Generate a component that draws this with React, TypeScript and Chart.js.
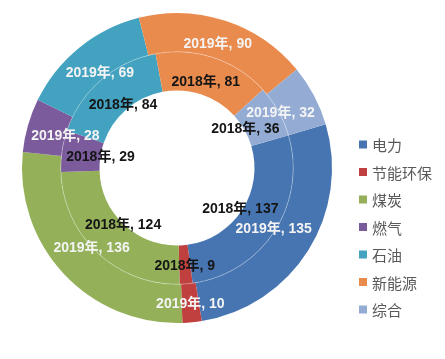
import React, { useEffect, useRef } from 'react';
import { Chart, registerables } from 'chart.js';

Chart.register(...registerables);

const categories = ['电力', '节能环保', '煤炭', '燃气', '石油', '新能源', '综合'];
const values2019 = [135, 10, 136, 28, 69, 90, 32];
const values2018 = [137, 9, 124, 29, 84, 81, 36];
const seriesNames = ['2019年', '2018年'];
const colors = ['#4775b2', '#c0403f', '#94b15a', '#7b5b9b', '#42a2c0', '#e98b4d', '#94acd4'];

const LABEL_FONT = '"Liberation Sans", "Noto Sans CJK SC", sans-serif';
const LEGEND_FONT = '"Noto Sans CJK SC", sans-serif';

const ringLabels = {
  id: 'ringLabels',
  afterDatasetsDraw(chart: any) {
    const ctx = chart.ctx;
    ctx.save();
    // faint line between the two rings
    const outerMeta = chart.getDatasetMeta(0);
    const a0: any = outerMeta.data[0];
    if (a0) {
      ctx.beginPath();
      ctx.arc(a0.x, a0.y, a0.innerRadius, 0, Math.PI * 2);
      ctx.strokeStyle = 'rgba(255,255,255,0.3)';
      ctx.lineWidth = 1;
      ctx.stroke();
    }
    ctx.font = `bold 14px ${LABEL_FONT}`;
    ctx.textAlign = 'center';
    ctx.textBaseline = 'middle';
    chart.data.datasets.forEach((ds: any, di: number) => {
      const meta = chart.getDatasetMeta(di);
      meta.data.forEach((arc: any, i: number) => {
        const { x, y, startAngle, endAngle, outerRadius } = arc;
        const a = (startAngle + endAngle) / 2;
        const text = `${ds.label}, ${ds.data[i]}`;
        const w = ctx.measureText(text).width;
        const h = 14;
        const limit = outerRadius - 4;
        const c = Math.cos(a);
        const s = Math.sin(a);
        let lo = 0;
        let hi = outerRadius;
        for (let k = 0; k < 40; k++) {
          const r = (lo + hi) / 2;
          const fx = Math.abs(r * c) + w / 2;
          const fy = Math.abs(r * s) + h / 2;
          if (Math.hypot(fx, fy) <= limit) lo = r;
          else hi = r;
        }
        ctx.fillStyle = di === 0 ? '#f4f4f4' : '#151515';
        ctx.fillText(text, x + lo * c, y + lo * s);
      });
    });
    ctx.restore();
  },
};

const sideLegend = {
  id: 'sideLegend',
  afterDraw(chart: any) {
    const ctx = chart.ctx;
    ctx.save();
    ctx.font = `15px ${LEGEND_FONT}`;
    ctx.textAlign = 'left';
    ctx.textBaseline = 'middle';
    const labels: string[] = chart.data.labels;
    const bg: string[] = chart.data.datasets[0].backgroundColor;
    const x0 = 359;
    const y0 = 144.5;
    const step = 27.5;
    labels.forEach((lab, i) => {
      const yy = y0 + i * step;
      ctx.fillStyle = bg[i];
      ctx.fillRect(x0, yy - 4, 8, 8);
      ctx.fillStyle = '#595959';
      ctx.fillText(lab, x0 + 13, yy + 1);
    });
    ctx.restore();
  },
};

export default function App() {
  const ref = useRef<HTMLCanvasElement>(null);
  useEffect(() => {
    if (!ref.current) return;
    const chart = new Chart(ref.current, {
      type: 'doughnut',
      data: {
        labels: categories,
        datasets: [
          { label: seriesNames[0], data: values2019, backgroundColor: colors, borderWidth: 0, hoverOffset: 0 },
          { label: seriesNames[1], data: values2018, backgroundColor: colors, borderWidth: 0, hoverOffset: 0 },
        ],
      },
      options: {
        responsive: false,
        animation: false,
        devicePixelRatio: 1,
        events: [],
        cutout: '50%',
        rotation: 73.6,
        layout: { padding: { left: 22, top: 13, right: 113, bottom: 36 } },
        plugins: { legend: { display: false }, tooltip: { enabled: false } },
      } as any,
      plugins: [ringLabels, sideLegend],
    });
    return () => chart.destroy();
  }, []);
  return (
    <div style={{ position: 'absolute', left: 0, top: 0, width: 445, height: 359, background: '#fff' }}>
      <canvas ref={ref} width={445} height={359} style={{ display: 'block' }} />
    </div>
  );
}
